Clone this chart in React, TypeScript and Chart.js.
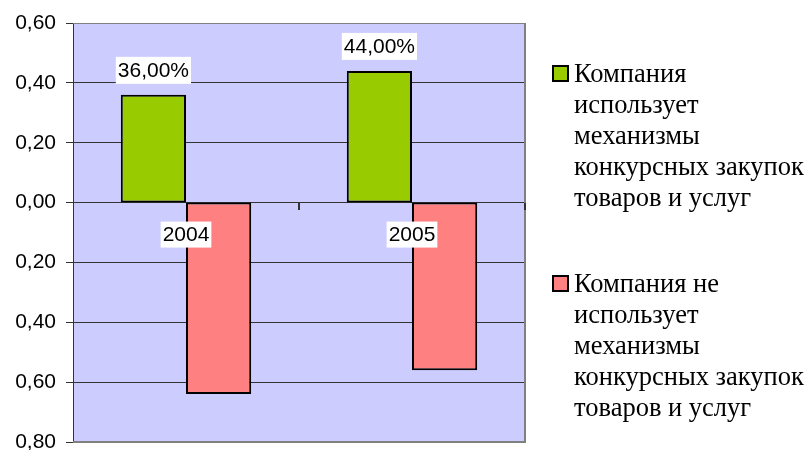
import React, { useEffect, useRef } from 'react';
import { Chart, registerables } from 'chart.js';

Chart.register(...registerables);

const categories = ['2004', '2005'];
const seriesNames = [
  'Компания использует механизмы конкурсных закупок товаров и услуг',
  'Компания не использует механизмы конкурсных закупок товаров и услуг',
];
const usesValues = [0.36, 0.44];
const notUsesValues = [-0.64, -0.56];
const seriesColors = ['#99CC00', '#FF8080'];
const yMin = -0.8;
const yMax = 0.6;
const yStep = 0.2;

const fmtAxis = (v: number) => Math.abs(v).toFixed(2).replace('.', ',');
const fmtPct = (v: number) => (v * 100).toFixed(2).replace('.', ',') + '%';

function wrapText(ctx: CanvasRenderingContext2D, text: string, maxW: number): string[] {
  const words = text.split(' ');
  const lines: string[] = [];
  let cur = '';
  for (const w of words) {
    const test = cur ? cur + ' ' + w : w;
    if (cur && ctx.measureText(test).width > maxW) {
      lines.push(cur);
      cur = w;
    } else {
      cur = test;
    }
  }
  if (cur) lines.push(cur);
  return lines;
}

const overlayPlugin = {
  id: 'overlay',
  beforeDraw(chart: any) {
    const { ctx, chartArea: a } = chart;
    ctx.save();
    ctx.fillStyle = '#CCCCFF';
    ctx.fillRect(a.left, a.top, a.right - a.left, a.bottom - a.top);
    ctx.restore();
  },
  afterDraw(chart: any) {
    const { ctx, chartArea: a, scales } = chart;
    const xs = scales.x;
    const ys = scales.y;
    ctx.save();
    // frame (top, right, bottom)
    ctx.fillStyle = '#808080';
    ctx.fillRect(a.left, a.top, a.right - a.left, 1);
    ctx.fillRect(a.right - 1, a.top, 2, a.bottom - a.top + 1);
    ctx.fillRect(a.left, a.bottom - 1, a.right - a.left + 1, 2);

    // zero line ticks at category boundaries
    const zeroY = ys.getPixelForValue(0);
    ctx.fillStyle = '#333333';
    const bounds: number[] = [];
    for (let i = 0; i < categories.length - 1; i++) {
      bounds.push((xs.getPixelForValue(i) + xs.getPixelForValue(i + 1)) / 2);
    }
    bounds.push(a.right);
    bounds.forEach((bx) => ctx.fillRect(Math.round(bx) - 1, Math.round(zeroY), 2, 7));

    // data labels above green bars
    ctx.font = "21px 'Liberation Sans', Arial, sans-serif";
    ctx.textAlign = 'center';
    ctx.textBaseline = 'middle';
    const meta0 = chart.getDatasetMeta(0);
    meta0.data.forEach((bar: any, i: number) => {
      const txt = fmtPct(usesValues[i]);
      const w = ctx.measureText(txt).width;
      const cy = bar.y - 25;
      ctx.fillStyle = '#FFFFFF';
      ctx.fillRect(bar.x - w / 2 - 2, cy - 13, w + 4, 27);
      ctx.fillStyle = '#000000';
      ctx.fillText(txt, bar.x, cy + 1);
    });

    // category labels below zero line
    categories.forEach((c, i) => {
      const cx = xs.getPixelForValue(i);
      const cy = zeroY + 32;
      const w = ctx.measureText(c).width;
      ctx.fillStyle = '#FFFFFF';
      ctx.fillRect(cx - w / 2 - 2, cy - 13, w + 4, 26);
      ctx.fillStyle = '#000000';
      ctx.fillText(c, cx, cy + 1);
    });

    // legend
    ctx.font = "26.5px 'Liberation Serif', 'Times New Roman', serif";
    ctx.textAlign = 'left';
    ctx.textBaseline = 'alphabetic';
    const lineH = 31;
    const firstBaselines = [a.top + 59, a.top + 269];
    seriesNames.forEach((name, k) => {
      const base = firstBaselines[k];
      const sx = a.right + 27;
      ctx.fillStyle = seriesColors[k];
      ctx.fillRect(sx, base - 17, 17, 17);
      ctx.strokeStyle = '#000000';
      ctx.lineWidth = 2;
      ctx.strokeRect(sx + 1, base - 16, 15, 15);
      ctx.fillStyle = '#000000';
      const lines = wrapText(ctx, name, 234);
      lines.forEach((ln, j) => ctx.fillText(ln, a.right + 49, base + j * lineH));
    });
    ctx.restore();
  },
};

export default function App() {
  const ref = useRef<HTMLCanvasElement>(null);
  useEffect(() => {
    if (!ref.current) return;
    const chart = new Chart(ref.current, {
      type: 'bar',
      data: {
        labels: categories,
        datasets: [
          {
            label: seriesNames[0],
            data: usesValues,
            backgroundColor: seriesColors[0],
            borderColor: '#000000',
            borderWidth: 2,
            borderSkipped: false,
            categoryPercentage: 0.577,
            barPercentage: 1,
          },
          {
            label: seriesNames[1],
            data: notUsesValues,
            backgroundColor: seriesColors[1],
            borderColor: '#000000',
            borderWidth: 2,
            borderSkipped: false,
            categoryPercentage: 0.577,
            barPercentage: 1,
          },
        ],
      },
      options: {
        responsive: false,
        animation: false,
        layout: { padding: { left: 0, top: 23, right: 284, bottom: 8 } },
        plugins: { legend: { display: false }, tooltip: { enabled: false } },
        scales: {
          x: { type: 'category', display: false, offset: true },
          y: {
            min: yMin,
            max: yMax,
            afterFit: (s: any) => {
              s.width = 73;
              s.paddingTop = 0;
              s.paddingBottom = 0;
            },
            ticks: {
              stepSize: yStep,
              callback: (v: any) => fmtAxis(Number(v)),
              color: '#000000',
              font: { family: "'Liberation Sans', Arial, sans-serif", size: 21 },
              padding: 10,
            },
            grid: {
              color: (c: any) =>
                c.tick && (Math.abs(c.tick.value - yMin) < 1e-6 || Math.abs(c.tick.value - yMax) < 1e-6)
                  ? 'rgba(0,0,0,0)'
                  : '#333333',
              tickColor: '#333333',
              tickLength: 7,
              lineWidth: 1,
            },
            border: { display: true, color: '#333333', width: 1 },
          },
        },
      },
      plugins: [overlayPlugin],
    });
    return () => chart.destroy();
  }, []);
  return (
    <div style={{ position: 'fixed', left: 0, top: 0, width: 809, height: 450, background: '#fff' }}>
      <canvas ref={ref} width={809} height={450} style={{ width: 809, height: 450, display: 'block' }} />
    </div>
  );
}
